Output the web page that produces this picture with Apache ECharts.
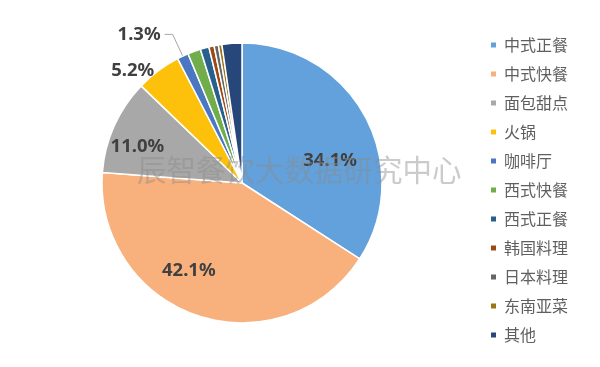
<!DOCTYPE html>
<html>
<head>
<meta charset="utf-8">
<script src="https://cdn.jsdelivr.net/npm/echarts@6/dist/echarts.min.js"></script>
<style>html,body{margin:0;padding:0;background:#fff}#c{width:600px;height:367px}</style>
</head>
<body>
<div id="c"></div>
<script>
const categories = ['中式正餐','中式快餐','面包甜点','火锅','咖啡厅','西式快餐','西式正餐','韩国料理','日本料理','东南亚菜','其他'];
const values = [34.1, 42.1, 11.0, 5.2, 1.3, 1.5, 1.0, 0.6, 0.5, 0.4, 2.3];
const colors = ['#62A1DC','#F8B07C','#A8A8A8','#FDC10C','#4A77C2','#71AE4B','#275F8E','#9C4A14','#656565','#9A7512','#274679'];
const watermark = '辰智餐饮大数据研究中心';

const labelFont = {fontFamily: 'Noto Sans', fontWeight: 'bold', fontSize: 18.5, color: '#404040'};
const labelCfg = [
  {show: true, position: 'inside', offset: [24, 13], ...labelFont},
  {show: true, position: 'inside', offset: [-30, 19], ...labelFont},
  {show: true, position: 'inside', offset: [-38, -6], ...labelFont},
  {show: true, position: 'outside', ...labelFont},
  {show: true, position: 'outside', ...labelFont}
];
const lineCfg = [
  null, null, null,
  {show: false, length: 0, length2: 0},
  {show: true, length: 24, length2: 8, lineStyle: {color: '#A6A6A6', width: 1}}
];

const data = categories.map((name, i) => {
  const d = {name, value: values[i], itemStyle: {color: colors[i]}};
  if (labelCfg[i]) d.label = labelCfg[i]; else d.label = {show: false};
  if (lineCfg[i]) d.labelLine = lineCfg[i];
  return d;
});

const chart = echarts.init(document.getElementById('c'), null, {renderer: 'canvas'});
chart.setOption({
  backgroundColor: '#fff',
  animation: false,
  legend: {
    orient: 'vertical',
    left: 484,
    top: 32,
    itemWidth: 7,
    itemHeight: 7,
    itemGap: 13,
    icon: 'rect',
    textStyle: {fontFamily: 'Noto Sans CJK SC', fontSize: 16, color: '#5f5f5f', padding: [0,0,0,2]},
    data: categories
  },
  graphic: [{
    type: 'text',
    left: 137,
    top: 155,
    z: 100,
    silent: true,
    style: {text: watermark, fontFamily: 'Noto Sans CJK SC', fontSize: 29.5, fill: 'rgba(140,140,140,0.45)'}
  }],
  series: [{
    type: 'pie',
    center: [242, 183],
    radius: 140,
    startAngle: 90,
    clockwise: true,
    avoidLabelOverlap: false,
    itemStyle: {borderColor: '#fff', borderWidth: 1.5},
    label: {formatter: (p) => p.value.toFixed(1) + '%', distanceToLabelLine: 4},
    data: data
  }]
});
</script>
</body>
</html>
